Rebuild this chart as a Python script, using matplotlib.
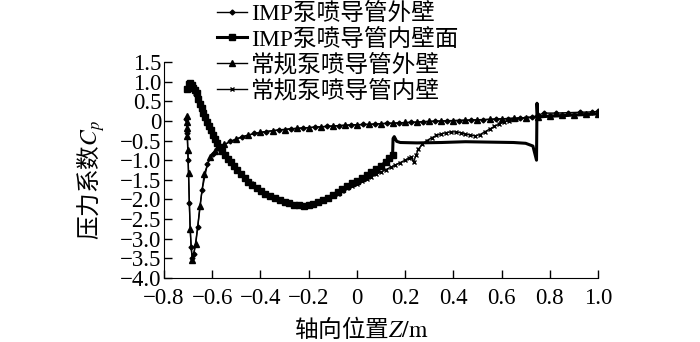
import matplotlib
matplotlib.use('Agg')
import matplotlib.pyplot as plt
import numpy as np
from matplotlib.ticker import FuncFormatter, MultipleLocator

plt.rcParams['font.family'] = ['Liberation Serif', 'Noto Sans CJK SC']
plt.rcParams['mathtext.fontset'] = 'stix'
plt.rcParams['axes.unicode_minus'] = True

labels = ['IMP泵喷导管外壁', 'IMP泵喷导管内壁面', '常规泵喷导管外壁', '常规泵喷导管内壁']

# IMP outer wall (diamonds)
imp_out_x = [-0.707, -0.704, -0.700, -0.695, -0.688, -0.683, -0.676, -0.660, -0.642, -0.620,
             -0.598, -0.575, -0.525, -0.475, -0.425, -0.375, -0.325, -0.275, -0.225, -0.175,
             -0.125, -0.075, -0.025, 0.025, 0.075, 0.125, 0.175, 0.225, 0.275, 0.325,
             0.375, 0.425, 0.475, 0.525, 0.575, 0.625, 0.675, 0.725, 0.750, 0.775,
             0.825, 0.875, 0.925, 0.975, 1.000]
imp_out_y = [0.05, -0.30, -1.00, -2.10, -3.20, -3.50, -3.40, -2.70, -1.75, -1.10,
             -0.83, -0.70, -0.52, -0.40, -0.32, -0.27, -0.23, -0.20, -0.18, -0.16,
             -0.14, -0.12, -0.10, -0.09, -0.08, -0.06, -0.05, -0.04, -0.02, -0.01,
             0.00, 0.01, 0.02, 0.03, 0.05, 0.06, 0.07, 0.09, 0.14, 0.20,
             0.20, 0.21, 0.22, 0.23, 0.24]

# IMP inner wall (squares)
imp_in_x = [-0.706, -0.698, -0.692, -0.685, -0.678, -0.671, -0.664, -0.657, -0.651, -0.644,
            -0.637, -0.630, -0.622, -0.614, -0.606, -0.598, -0.590, -0.580, -0.570, -0.560,
            -0.548, -0.536, -0.524, -0.510, -0.496, -0.482, -0.466, -0.450, -0.434, -0.416,
            -0.398, -0.380, -0.360, -0.340, -0.320, -0.300, -0.280, -0.260, -0.240, -0.220,
            -0.200, -0.180, -0.160, -0.140, -0.120, -0.100, -0.080, -0.060, -0.040, -0.020,
            0.000, 0.020, 0.040, 0.060, 0.080, 0.100, 0.120, 0.135, 0.148, 0.150,
            0.155, 0.165, 0.180, 0.250, 0.350, 0.450, 0.550, 0.650, 0.700, 0.730,
            0.745, 0.747, 0.750, 0.800, 0.850, 0.900, 0.950, 1.000]
imp_in_y = [0.80, 0.95, 0.97, 0.92, 0.85, 0.78, 0.70, 0.56, 0.43, 0.32,
            0.20, 0.09, -0.02, -0.13, -0.24, -0.35, -0.45, -0.56, -0.67, -0.77,
            -0.87, -0.96, -1.04, -1.14, -1.26, -1.36, -1.46, -1.55, -1.63, -1.72,
            -1.79, -1.85, -1.91, -1.96, -2.01, -2.06, -2.10, -2.13, -2.15, -2.16,
            -2.14, -2.11, -2.07, -2.02, -1.96, -1.88, -1.81, -1.74, -1.66, -1.59,
            -1.52, -1.46, -1.39, -1.31, -1.23, -1.14, -1.04, -0.95, -0.88, -0.45,
            -0.40, -0.52, -0.55, -0.56, -0.55, -0.53, -0.54, -0.55, -0.57, -0.64,
            -1.00, 0.45, 0.10, 0.12, 0.13, 0.15, 0.16, 0.18]

# conventional outer wall (triangles)
conv_out_x = [-0.706, -0.705, -0.704, -0.703, -0.701, -0.698, -0.692, -0.683, -0.668, -0.651,
              -0.633, -0.609, -0.588, -0.550, -0.500, -0.450, -0.400, -0.350, -0.300, -0.250,
              -0.200, -0.150, -0.100, -0.050, 0.000, 0.050, 0.100, 0.150, 0.200, 0.250,
              0.300, 0.350, 0.400, 0.450, 0.500, 0.550, 0.600, 0.650, 0.700, 0.750,
              0.800, 0.850, 0.900, 0.950, 1.000]
conv_out_y = [0.13, -0.04, -0.17, -0.38, -0.74, -1.33, -2.75, -3.53, -3.13, -2.17,
              -1.35, -0.93, -0.76, -0.60, -0.46, -0.36, -0.29, -0.25, -0.22, -0.19,
              -0.17, -0.15, -0.13, -0.11, -0.10, -0.09, -0.07, -0.06, -0.04, -0.03,
              -0.01, 0.00, 0.01, 0.02, 0.03, 0.04, 0.05, 0.07, 0.08, 0.10,
              0.13, 0.14, 0.15, 0.17, 0.18]

# conventional inner wall (x markers)
conv_in_x = [-0.704, -0.695, -0.688, -0.680, -0.670, -0.660, -0.650, -0.640, -0.630, -0.620,
             -0.610, -0.600, -0.590, -0.580, -0.570, -0.560, -0.545, -0.530, -0.515, -0.500,
             -0.480, -0.460, -0.440, -0.420, -0.400, -0.380, -0.360, -0.340, -0.320, -0.300,
             -0.280, -0.260, -0.240, -0.220, -0.200, -0.180, -0.160, -0.140, -0.120, -0.100,
             -0.080, -0.060, -0.040, -0.020, 0.000, 0.020, 0.040, 0.060, 0.080, 0.100,
             0.120, 0.140, 0.160, 0.180, 0.200, 0.215, 0.225, 0.235, 0.245, 0.255,
             0.270, 0.290, 0.310, 0.330, 0.350, 0.370, 0.390, 0.410, 0.430, 0.450,
             0.470, 0.490, 0.510, 0.530, 0.550, 0.570, 0.590, 0.610, 0.630, 0.660,
             0.700, 0.750, 0.800, 0.850, 0.900, 0.950, 1.000]
conv_in_y = [0.78, 0.93, 0.92, 0.84, 0.72, 0.60, 0.42, 0.27, 0.12, -0.02,
             -0.16, -0.30, -0.43, -0.55, -0.66, -0.76, -0.89, -1.00, -1.11, -1.22,
             -1.36, -1.48, -1.59, -1.69, -1.77, -1.84, -1.90, -1.96, -2.02, -2.07,
             -2.11, -2.15, -2.17, -2.18, -2.17, -2.14, -2.10, -2.05, -1.99, -1.92,
             -1.86, -1.79, -1.72, -1.66, -1.60, -1.54, -1.48, -1.42, -1.36, -1.30,
             -1.24, -1.18, -1.12, -1.06, -1.00, -0.95, -0.93, -1.05, -0.88, -0.72,
             -0.60, -0.50, -0.43, -0.37, -0.33, -0.30, -0.28, -0.28, -0.30, -0.33,
             -0.36, -0.38, -0.35, -0.28, -0.21, -0.14, -0.08, -0.03, 0.01, 0.05,
             0.08, 0.12, 0.14, 0.15, 0.16, 0.17, 0.18]

fig = plt.figure(figsize=(7, 3.42), dpi=100)
ax = fig.add_axes([164 / 700, 1 - 278 / 342, 434 / 700, 216 / 342])

ax.plot(imp_out_x, imp_out_y, color='black', lw=1, marker='D', ms=2.5, label=labels[0])
ax.plot(imp_in_x, imp_in_y, color='black', lw=2.2, marker='s', ms=4,
        markevery=list(range(59)), label=labels[1])
ax.plot(conv_out_x, conv_out_y, color='black', lw=1, marker='^', ms=4, label=labels[2])
ax.plot(conv_in_x, conv_in_y, color='black', lw=1, marker='x', ms=3.5, mew=1, label=labels[3])

ax.set_xlim(-0.8, 1.0)
ax.set_ylim(-4.0, 1.5)
ax.xaxis.set_major_locator(MultipleLocator(0.2))
ax.yaxis.set_major_locator(MultipleLocator(0.5))


def fmt(v, pos):
    if abs(v) < 1e-9:
        return '0'
    return f'{v:.1f}'.replace('-', '\u2212')


ax.xaxis.set_major_formatter(FuncFormatter(fmt))
ax.yaxis.set_major_formatter(FuncFormatter(fmt))
ax.tick_params(direction='in', length=6, width=1, labelsize=16.5)
ax.tick_params(axis='x', pad=7.5)
ax.tick_params(axis='y', pad=2)
for s in ['top', 'right']:
    ax.spines[s].set_visible(False)

# mathtext only takes the first family, so CJK goes first for the axis labels
cjk = ['Noto Sans CJK SC', 'Liberation Serif']
ax.set_xlabel(r'轴向位置$Z/\mathrm{m}$', fontsize=17, family=cjk)
ax.xaxis.set_label_coords(0.454, -0.17)
ax.set_ylabel(r'压力系数$C_p$', fontsize=17, family=cjk)
ax.yaxis.set_label_coords(-0.132, 0.454)

fig.legend(loc='upper left', bbox_to_anchor=(217 / 700, 1 - 3 / 342), frameon=False, fontsize=17,
           handlelength=1.25, handletextpad=0.2, labelspacing=0.15, borderpad=0, borderaxespad=0)

fig.savefig('out.png', dpi=100)
